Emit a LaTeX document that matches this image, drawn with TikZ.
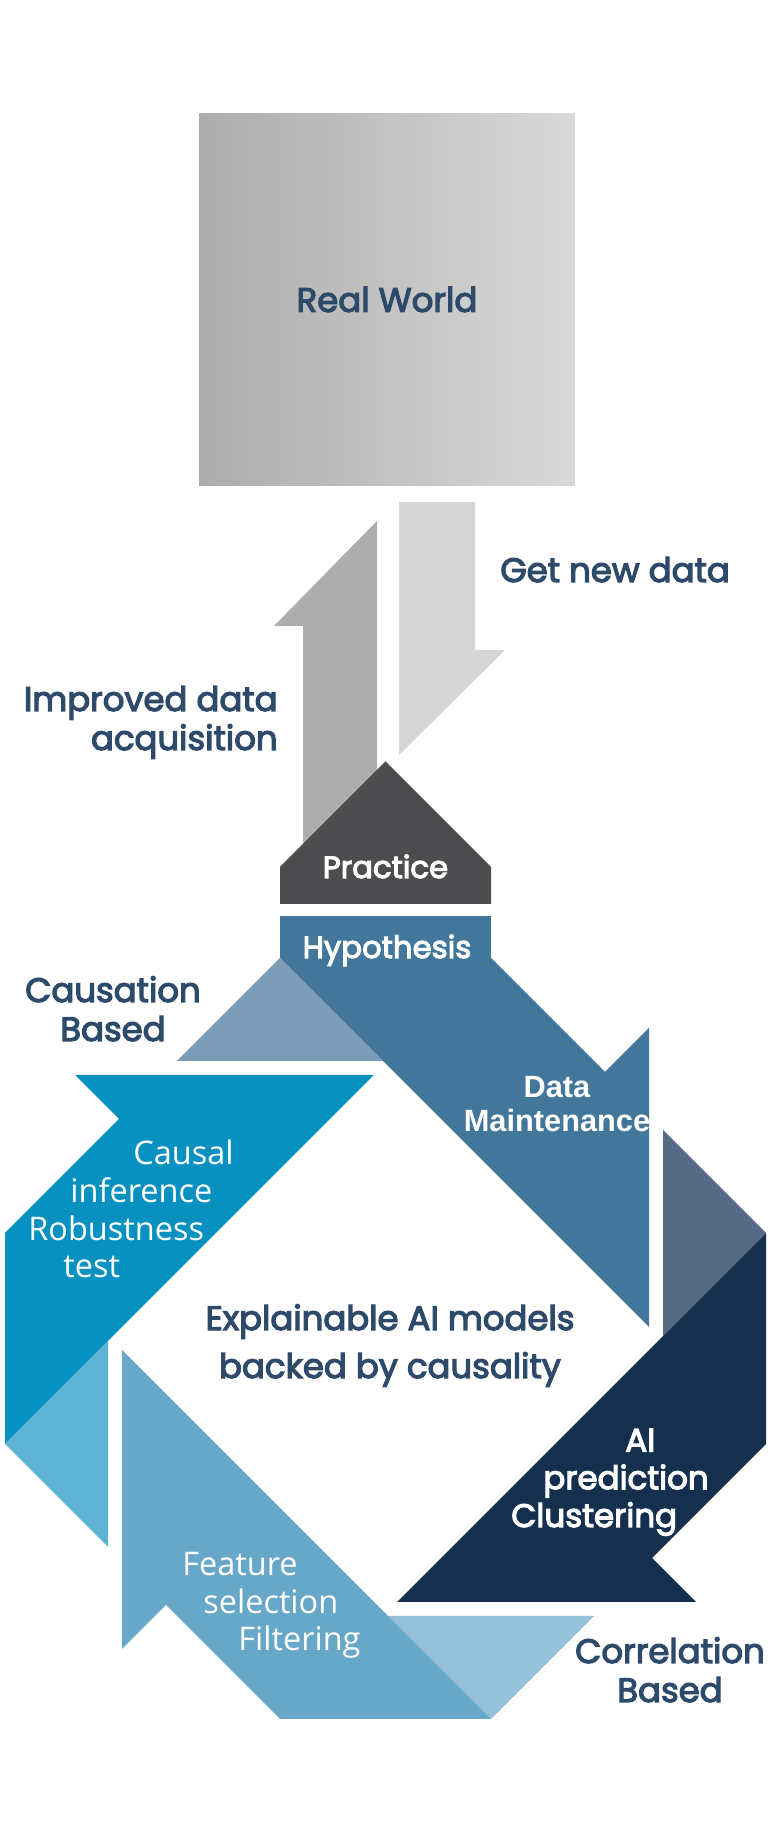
\documentclass[tikz,border=0pt]{standalone}
\usepackage{fontspec}
\setmainfont{Poppins}
\newfontfamily\labelfont[FakeBold=3.5]{Poppins}
\newfontfamily\bandfont{Open Sans}
\newfontfamily\armfont{Liberation Sans}
\usetikzlibrary{positioning}

\definecolor{inkblue}{RGB}{46,74,107}
\definecolor{worldleft}{RGB}{172,172,172}
\definecolor{worldright}{RGB}{217,217,217}
\definecolor{shaftdark}{RGB}{173,173,173}
\definecolor{shaftlight}{RGB}{214,214,214}
\definecolor{practgray}{RGB}{77,77,79}
\definecolor{hypoblue}{RGB}{66,119,155}
\definecolor{hypofold}{RGB}{123,155,182}
\definecolor{prednavy}{RGB}{21,48,79}
\definecolor{predfold}{RGB}{86,105,131}
\definecolor{featblue}{RGB}{103,167,199}
\definecolor{featfold}{RGB}{147,193,216}
\definecolor{causcyan}{RGB}{6,145,192}
\definecolor{causfold}{RGB}{95,180,214}

\begin{document}
\begin{tikzpicture}[
    x=0.02cm, y=0.02cm,
    lbl/.style={text=inkblue, font=\labelfont\fontsize{19.3}{22.2}\selectfont, inner sep=0pt},
    tag/.style={text=white, font=\labelfont\fontsize{17.5}{21.5}\selectfont, inner sep=0pt},
    onband/.style={text=white, font=\bandfont\fontsize{18.5}{21.5}\selectfont, inner sep=0pt, align=left}
  ]
  \useasboundingbox (0,0) rectangle (772,1829);
  \coordinate (ring) at (385.5,490.5);

  % real world
  \node[lbl, minimum width=7.52cm, minimum height=7.46cm, left color=worldleft, right color=worldright] (world) at (387,1529.5) {Real World};

  % up / down arrows
  \fill[shaftdark] (303,960) -- (303,1203) -- (274,1203) -- (377,1308) -- (377,960) -- cycle;
  \fill[shaftlight] (399,1074) -- (399,1327) -- (475,1327) -- (475,1179) -- (505,1179) -- cycle;
  \node[lbl, anchor=base west] (getdata) at (500,1247) {Get new data};
  \node[lbl, anchor=base east, align=right] (improved) at (278,1079) {Improved data\\acquisition};

  % practice
  \fill[practgray] (280,925) -- (280,962) -- (385.5,1067.5) -- (491,962) -- (491,925) -- cycle;
  \node[tag, anchor=base] (practice) at (385.5,951) {Practice};

  % ring of four arrows
  \fill[hypoblue] (280,871) rectangle (491,913);
  \foreach \ang/\bandcol/\foldcol in {0/hypoblue/hypofold, -90/prednavy/predfold, 180/featblue/featfold, 90/causcyan/causfold}{
    \begin{scope}[shift={(ring)}, rotate=\ang]
      \fill[\foldcol] (-105.5,380.5) -- (-208.5,277.5) -- (-2.5,277.5) -- cycle;
      \fill[\bandcol] (-105.5,380.5) -- (105.5,380.5) -- (219.5,266.5) -- (263.5,310.5) -- (263.5,11.5) -- cycle;
    \end{scope}
  }

  \node[tag, anchor=base] (hypo) at (387,871) {Hypothesis};
  \node[text=white, font=\armfont\fontsize{17.5}{19.5}\selectfont\bfseries, inner sep=0pt, align=center, anchor=base] (maint) at (557,697) {Data\\Maintenance};
  \node[onband, anchor=base west] (causal) at (28,551) {\hspace*{2.1cm}Causal\\\hspace*{0.84cm}inference\\Robustness\\\hspace*{0.7cm}test};
  \node[tag, font=\labelfont\fontsize{18.5}{21.5}\selectfont, align=left, anchor=base west] (predict) at (511,302) {\hspace*{2.28cm}AI\\\hspace*{0.64cm}prediction\\Clustering};
  \node[onband, anchor=base west] (feature) at (182,178) {Feature\\\hspace*{0.42cm}selection\\\hspace*{1.12cm}Filtering};

  \node[lbl, anchor=base, align=center] (causation) at (113,788) {Causation\\Based};
  \node[lbl, anchor=base, align=center] (correlation) at (670,127) {Correlation\\Based};
  \node[lbl, font=\labelfont\fontsize{19.3}{27.3}\selectfont, anchor=base, align=center] (xai) at (390,451) {Explainable AI models\\backed by causality};
\end{tikzpicture}
\end{document}
